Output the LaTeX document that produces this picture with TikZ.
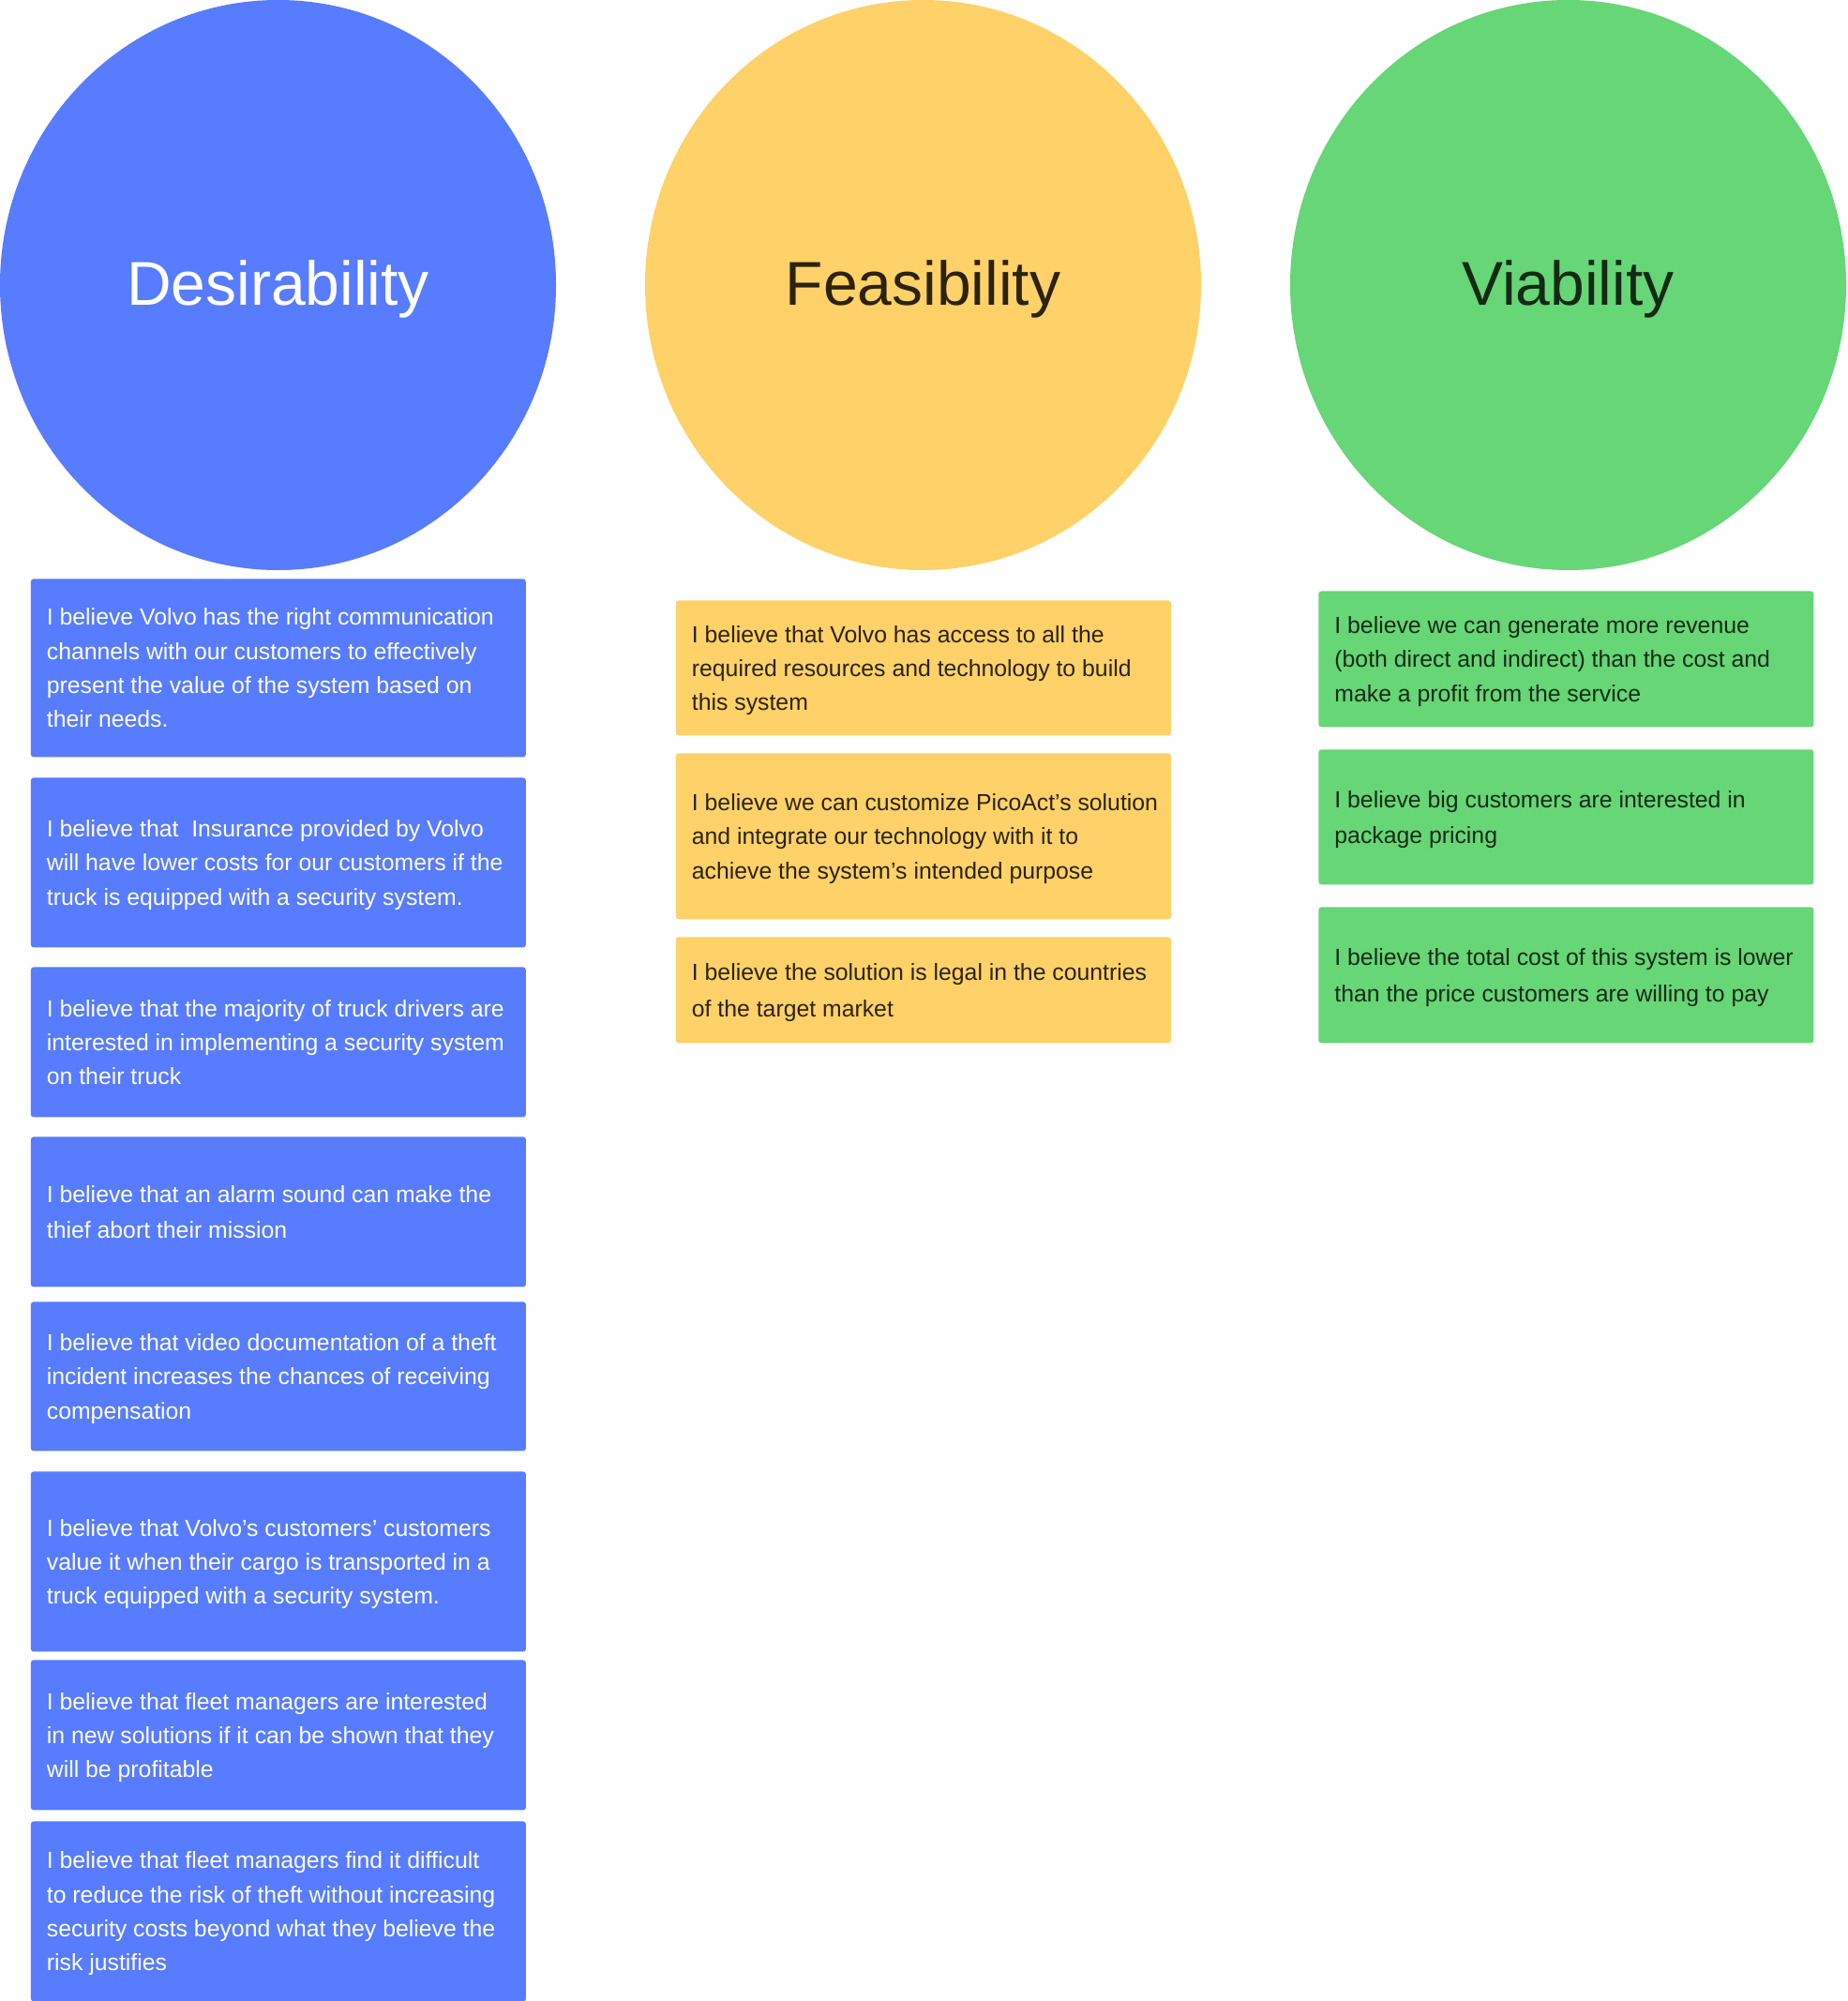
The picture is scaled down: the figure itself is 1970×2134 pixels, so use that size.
\documentclass[tikz,border=0pt]{standalone}
\usepackage{fontspec}
\setmainfont{Liberation Sans}
\usepackage{xcolor}
\definecolor{desire-base}{RGB}{87,124,255}
\definecolor{feas-base}{RGB}{254,210,104}
\definecolor{feas-ink}{RGB}{43,35,15}
\definecolor{viab-base}{RGB}{102,214,118}
\definecolor{viab-ink}{RGB}{21,42,22}
\usepackage{tikz}
\usetikzlibrary{shapes.geometric,positioning}
\newcommand{\cardstrut}{\rule[-4.7pt]{0pt}{18.3pt}}

\begin{document}
\begin{tikzpicture}[
    x=0.5pt, y=-0.5pt,
    every node/.style={inner sep=0pt},
    lens/.style={ellipse, minimum width=296.5pt, minimum height=304pt},
    lens title/.style={anchor=base, font=\fontsize{33}{39}\selectfont},
    card/.style={anchor=north west, minimum width=264pt, rounded corners=1.5pt},
    card text/.style={anchor=west, align=left, font=\fontsize{12.4}{18.15}\selectfont}
]

% Page
\fill[white] (0,0) rectangle (1970,2134);
\useasboundingbox (0,0) rectangle (1970,2134);

% The three lenses
\node[lens, fill=desire-base] (desire) at (296.5,304) {};
\node[lens, fill=feas-base] (feas) at (984.5,304) {};
\node[lens, fill=viab-base] (viab) at (1672.5,304) {};

\node[lens title, text=white] (desire-title) at ([yshift=-11pt]desire.center) {Desirability};
\node[lens title, text=feas-ink] (feas-title) at ([yshift=-11pt]feas.center) {Feasibility};
\node[lens title, text=viab-ink] (viab-title) at ([yshift=-11pt]viab.center) {Viability};

% Desirability column
\node[card, fill=desire-base, minimum height=95pt] (d1) at (32.5,617) {};
\node[card text, text=white] (d1-text) at ([xshift=8.5pt]d1.west) {\cardstrut I believe Volvo has the right communication\\
channels with our customers to effectively\\
present the value of the system based on\\
their needs.\cardstrut};

\node[card, fill=desire-base, minimum height=90.5pt] (d2) at (32.5,829) {};
\node[card text, text=white] (d2-text) at ([xshift=8.5pt]d2.west) {\cardstrut I believe that~ Insurance provided by Volvo\\
will have lower costs for our customers if the\\
truck is equipped with a security system.\cardstrut};

\node[card, fill=desire-base, minimum height=80pt] (d3) at (32.5,1031) {};
\node[card text, text=white] (d3-text) at ([xshift=8.5pt]d3.west) {\cardstrut I believe that the majority of truck drivers are\\
interested in implementing a security system\\
on their truck\cardstrut};

\node[card, fill=desire-base, minimum height=80pt] (d4) at (32.5,1212) {};
\node[card text, text=white] (d4-text) at ([xshift=8.5pt]d4.west) {\cardstrut I believe that an alarm sound can make the\\
thief abort their mission\cardstrut};

\node[card, fill=desire-base, minimum height=79.5pt] (d5) at (32.5,1388) {};
\node[card text, text=white] (d5-text) at ([xshift=8.5pt]d5.west) {\cardstrut I believe that video documentation of a theft\\
incident increases the chances of receiving\\
compensation\cardstrut};

\node[card, fill=desire-base, minimum height=96pt] (d6) at (32.5,1569) {};
\node[card text, text=white] (d6-text) at ([xshift=8.5pt]d6.west) {\cardstrut I believe that Volvo’s customers’ customers\\
value it when their cargo is transported in a\\
truck equipped with a security system.\cardstrut};

\node[card, fill=desire-base, minimum height=80pt] (d7) at (32.5,1770) {};
\node[card text, text=white] (d7-text) at ([xshift=8.5pt]d7.west) {\cardstrut I believe that fleet managers are interested\\
in new solutions if it can be shown that they\\
will be profitable\cardstrut};

\node[card, fill=desire-base, minimum height=96pt] (d8) at (32.5,1942) {};
\node[card text, text=white] (d8-text) at ([xshift=8.5pt]d8.west) {\cardstrut I believe that fleet managers find it difficult\\
to reduce the risk of theft without increasing\\
security costs beyond what they believe the\\
risk justifies\cardstrut};

% Feasibility column
\node[card, fill=feas-base, minimum height=72pt] (f1) at (720.5,640) {};
\node[card text, text=feas-ink] (f1-text) at ([xshift=8.5pt]f1.west) {\cardstrut I believe that Volvo has access to all the\\
required resources and technology to build\\
this system\cardstrut};

\node[card, fill=feas-base, minimum height=88.5pt] (f2) at (720.5,803) {};
\node[card text, text=feas-ink] (f2-text) at ([xshift=8.5pt]f2.west) {\cardstrut I believe we can customize PicoAct’s solution\\
and integrate our technology with it to\\
achieve the system’s intended purpose\cardstrut};

\node[card, fill=feas-base, minimum height=56.5pt] (f3) at (720.5,999) {};
\node[card text, text=feas-ink] (f3-text) at ([xshift=8.5pt]f3.west) {\cardstrut I believe the solution is legal in the countries\\
of the target market\cardstrut};

% Viability column
\node[card, fill=viab-base, minimum height=72.5pt] (v1) at (1406,630) {};
\node[card text, text=viab-ink] (v1-text) at ([xshift=8.5pt]v1.west) {\cardstrut I believe we can generate more revenue\\
(both direct and indirect) than the cost and\\
make a profit from the service\cardstrut};

\node[card, fill=viab-base, minimum height=72pt] (v2) at (1406,799) {};
\node[card text, text=viab-ink] (v2-text) at ([xshift=8.5pt]v2.west) {\cardstrut I believe big customers are interested in\\
package pricing\cardstrut};

\node[card, fill=viab-base, minimum height=72.5pt] (v3) at (1406,967) {};
\node[card text, text=viab-ink] (v3-text) at ([xshift=8.5pt]v3.west) {\cardstrut I believe the total cost of this system is lower\\
than the price customers are willing to pay\cardstrut};

\end{tikzpicture}
\end{document}
